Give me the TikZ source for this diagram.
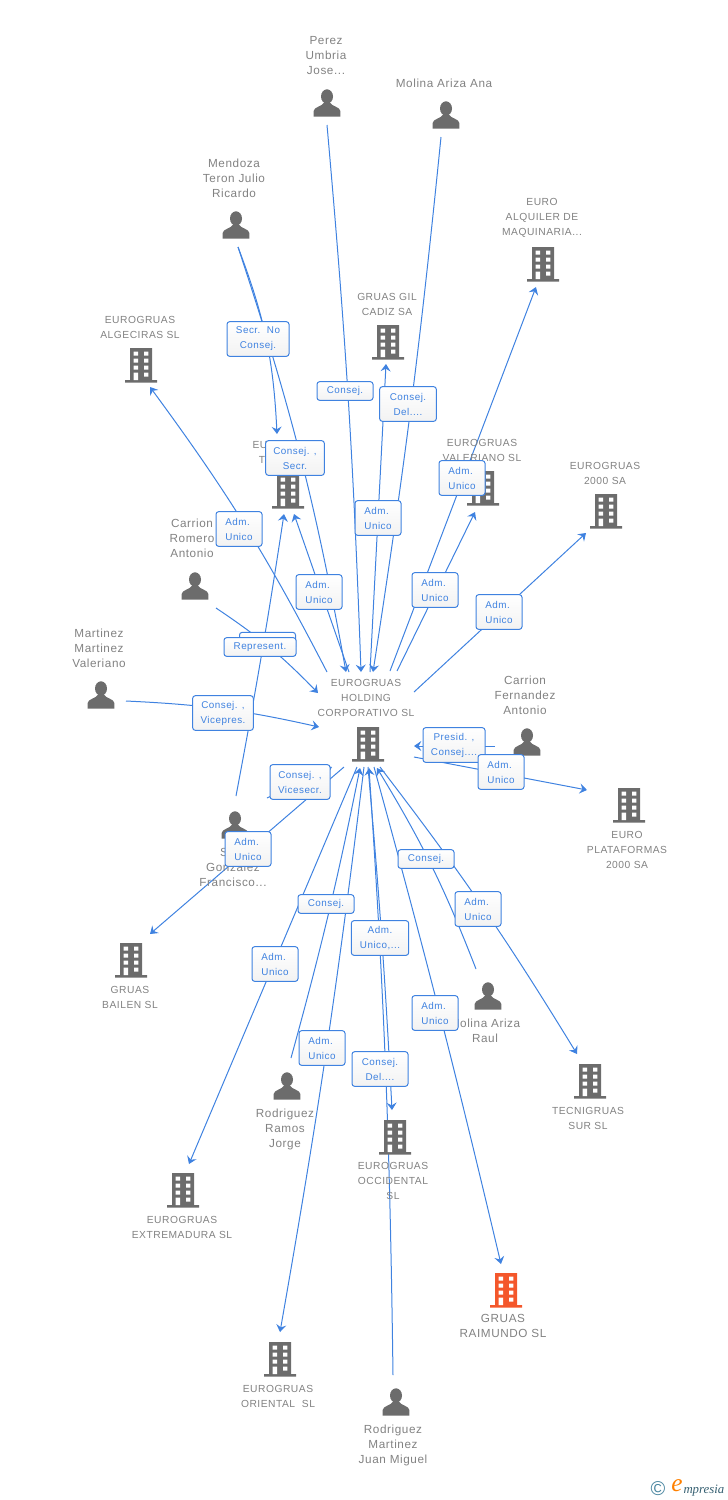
\documentclass[tikz,border=0pt]{standalone}
\usepackage{fontspec}
\setmainfont{Liberation Sans}
\newfontfamily\namefont[LetterSpace=5]{Liberation Sans}
\newfontfamily\logofont{Liberation Serif}
\usetikzlibrary{arrows.meta}
\definecolor{linkblue}{HTML}{3F82E0}
\definecolor{iconGrey}{HTML}{6C6C6C}
\definecolor{nameGrey}{HTML}{828282}
\definecolor{mainOrange}{HTML}{F4572B}
\definecolor{logoTeal}{HTML}{4A86A0}
\newcommand{\admunico}{Adm.\kern2pt\\Unico}
\tikzset{
  every picture/.style={line width=0.75pt},
  link/.style={draw=linkblue,line width=0.75pt,-{Stealth[length=5.5pt,width=7.5pt,inset=2pt]}},
  person/.style={font=\namefont\fontsize{8.8}{11.25}\selectfont,text=nameGrey,align=center,inner sep=0pt},
  firm/.style={font=\namefont\fontsize{7.7}{11.25}\selectfont,text=nameGrey,align=center,inner sep=0pt},
  lbl/.style={draw=linkblue,rounded corners=2pt,top color=white,bottom color=white!95!black,line width=0.75pt,
    font=\namefont\fontsize{7.4}{11.25}\selectfont,text=linkblue,align=center,inner sep=0pt,minimum height=26pt,minimum width=34.5pt},
  lblone/.style={lbl,minimum height=14pt,minimum width=42pt},
  pics/bldg/.style={code={
    \begin{scope}[yscale=-1]
    \fill[#1] (-11,-17) rectangle (11,15) (-16,15) rectangle (16,17.5);
    \foreach \wy in {-13.5,-6.5,0.5} {
      \fill[white] (-7.3,\wy) rectangle (-3,\wy+4.2) (3,\wy) rectangle (7.3,\wy+4.2);
    }
    \fill[white] (3,7.5) rectangle (7.3,11.7) (-7.3,7.5) rectangle (-3,15);
    \end{scope}
  }},
  pics/bldg/.default=iconGrey,
  pics/human/.style={code={
    \begin{scope}[yscale=-1]
    \fill[iconGrey] (0,-6.5) ellipse (6 and 7.2);
    \fill[iconGrey] (-13.3,13.5) -- (-13.3,8) .. controls (-13.3,4) and (-5,3.5) .. (-3.5,0) -- (3.5,0) .. controls (5,3.5) and (13.3,4) .. (13.3,8) -- (13.3,13.5) -- cycle;
    \end{scope}
  }},
}
\begin{document}
\begin{tikzpicture}[x=0.75pt,y=0.75pt,yscale=-1,xscale=1]
\useasboundingbox (0,0) rectangle (728,1500);

% connector ends
\coordinate (perezout) at (327,125);
\coordinate (perezin) at (361,672);
\coordinate (anaout) at (441,137);
\coordinate (anain) at (373,672);
\coordinate (gilout) at (370,672);
\coordinate (gilin) at (386,364);
\coordinate (mendozaout) at (238,247);
\coordinate (mendozaint) at (277,434);
\coordinate (mendozain) at (346,672);
\coordinate (tout) at (349,672);
\coordinate (tin) at (294,514);
\coordinate (algout) at (327,672);
\coordinate (algin) at (150,387);
\coordinate (romeroout) at (216,608);
\coordinate (romeroin) at (318,693);
\coordinate (sout) at (236,796);
\coordinate (sin) at (284,514);
\coordinate (svout) at (267,798);
\coordinate (svin) at (332,767);
\coordinate (bailout) at (344,767);
\coordinate (bailin) at (150,934);
\coordinate (martout) at (126,701);
\coordinate (martin) at (319,727);
\coordinate (milout) at (414,692);
\coordinate (milin) at (586,533);
\coordinate (alqout) at (390,671);
\coordinate (alqin) at (536,287);
\coordinate (valout) at (397,671);
\coordinate (valin) at (475,512);
\coordinate (fernout) at (495,746);
\coordinate (fernin) at (414,746);
\coordinate (platout) at (414,757);
\coordinate (platin) at (587,790);
\coordinate (extout) at (357,767);
\coordinate (extin) at (189,1164);
\coordinate (jorgeout) at (291,1058);
\coordinate (jorgein) at (360,768);
\coordinate (oriout) at (364,767);
\coordinate (oriin) at (280,1332);
\coordinate (occout) at (368,767);
\coordinate (occin) at (392,1110);
\coordinate (juanout) at (393,1375);
\coordinate (juanin) at (369,768);
\coordinate (raiout) at (374,767);
\coordinate (raiin) at (501,1264);
\coordinate (raulout) at (476,969);
\coordinate (raulin) at (377,768);
\coordinate (tecout) at (380,767);
\coordinate (tecin) at (577,1054);

% connectors
\draw[link] (perezout) to[bend right=1.5] (perezin);
\draw[link] (anaout) to[bend right=1.5] (anain);
\draw[link] (gilout) -- (gilin);
\draw[link] (mendozaout) to[bend right=9] (mendozaint);
\draw[link] (mendozaout) to[bend right=4] (mendozain);
\draw[link] (tout) -- (tin);
\draw[link] (algout) to[bend left=4.5] (algin);
\draw[link] (romeroout) to[bend right=6] (romeroin);
\draw[link] (sout) to[bend left=1] (sin);
\draw[link] (svout) -- (svin);
\draw[link] (bailout) -- (bailin);
\draw[link] (martout) to[bend right=5] (martin);
\draw[link] (milout) -- (milin);
\draw[link] (alqout) -- (alqin);
\draw[link] (valout) -- (valin);
\draw[link] (fernout) -- (fernin);
\draw[link] (platout) -- (platin);
\draw[link] (extout) -- (extin);
\draw[link] (jorgeout) to[bend left=2] (jorgein);
\draw[link] (oriout) to[bend right=1.5] (oriin);
\draw[link] (occout) to[bend right=1] (occin);
\draw[link] (juanout) to[bend left=1.5] (juanin);
\draw[link] (raiout) to[bend right=1] (raiin);
\draw[link] (raulout) to[bend left=5] (raulin);
\draw[link] (tecout) to[bend right=3] (tecin);

% people
\pic at (327,103) {human};
\pic at (446,115) {human};
\pic at (236,225) {human};
\pic at (195,586) {human};
\pic at (101,695) {human};
\pic at (527,742) {human};
\pic at (235,825) {human};
\pic at (488,996) {human};
\pic at (287,1086) {human};
\pic at (396,1402) {human};

% companies
\pic at (543,264) {bldg};
\pic at (388,342) {bldg};
\pic at (141,365) {bldg};
\pic at (288,491) {bldg};
\pic at (483,488) {bldg};
\pic at (606,511) {bldg};
\pic at (368,744) {bldg};
\pic at (629,805) {bldg};
\pic at (131,960) {bldg};
\pic at (590,1081) {bldg};
\pic at (395,1137) {bldg};
\pic at (183,1190) {bldg};
\pic at (506,1290) {bldg=mainOrange};
\pic at (280,1359) {bldg};

% names
\node[person] (perezname) at (326,56) {Perez\\Umbria\\Jose...};
\node[person] (ananame) at (444,83) {Molina Ariza Ana};
\node[person] (mendozaname) at (234,178) {Mendoza\\Teron Julio\\Ricardo};
\node[person] (romeroname) at (192,538) {Carrion\\Romero\\Antonio};
\node[person] (martinezname) at (99,648) {Martinez\\Martinez\\Valeriano};
\node[person] (fernandezname) at (525,695) {Carrion\\Fernandez\\Antonio};
\node[person] (sname) at (224,852) {S};
\node[person] (gonzalezname) at (233,875) {Gonzalez\\Francisco...};
\node[person] (raulname) at (485,1031) {Molina Ariza\\Raul};
\node[person] (jorgename) at (285,1129) {Rodriguez\\Ramos\\Jorge};
\node[person] (juanname) at (393,1445) {Rodriguez\\Martinez\\Juan Miguel};
\node[firm] (alquilername) at (542,218) {EURO\\ALQUILER DE\\MAQUINARIA...};
\node[firm] (gilname) at (387,304) {GRUAS GIL\\CADIZ SA};
\node[firm] (algecirasname) at (140,327) {EUROGRUAS\\ALGECIRAS SL};
\node[firm] (euname) at (260,445) {EU};
\node[firm] (tname) at (262,460) {T};
\node[firm] (valerianoname) at (482,450) {EUROGRUAS\\VALERIANO SL};
\node[firm] (milname) at (605,473) {EUROGRUAS\\2000 SA};
\node[firm] (holdingname) at (366,698) {EUROGRUAS\\HOLDING\\CORPORATIVO SL};
\node[firm] (plataformasname) at (627,850) {EURO\\PLATAFORMAS\\2000 SA};
\node[firm] (bailenname) at (130,997) {GRUAS\\BAILEN SL};
\node[firm] (tecniname) at (588,1118) {TECNIGRUAS\\SUR SL};
\node[firm] (occidentalname) at (393,1181) {EUROGRUAS\\OCCIDENTAL\\SL};
\node[firm] (extremaduraname) at (182,1227) {EUROGRUAS\\EXTREMADURA SL};
\node[person] (raimundoname) at (503,1326) {GRUAS\\RAIMUNDO SL};
\node[firm] (orientalname) at (278,1396) {EUROGRUAS\\ORIENTAL\ \ SL};

% labels
\node[lbl,minimum width=46.5pt] (secrno) at (258,339) {Secr.\ \ No\\Consej.};
\node[lblone] (perezlbl) at (345,391) {Consej.};
\node[lbl,minimum width=42.5pt] (analbl) at (408,404) {Consej.\\Del....};
\node[lbl,minimum width=44pt] (secrlbl) at (295,458) {Consej. ,\\Secr.};
\node[lbl] (vallbl) at (462,478) {\admunico};
\node[lbl] (gillbl) at (378,518) {\admunico};
\node[lbl] (alglbl) at (239,529) {\admunico};
\node[lbl] (tlbl) at (319,592) {\admunico};
\node[lbl] (alqlbl) at (435,590) {\admunico};
\node[lbl] (millbl) at (499,612) {\admunico};
\node[lbl,minimum height=13pt,minimum width=42pt] (repback) at (267.5,641) {};
\node[lblone,minimum width=54pt] (replbl) at (260,647) {Represent.};
\node[lbl,minimum width=45.5pt] (martlbl) at (223,713) {Consej. ,\\Vicepres.};
\node[lbl,minimum width=46.5pt] (fernlbl) at (454,745) {Presid. ,\\Consej....};
\node[lbl] (platlbl) at (501,772) {\admunico};
\node[lbl,minimum width=45pt] (svlbl) at (300,782) {Consej. ,\\Vicesecr.};
\node[lbl] (baillbl) at (248,849) {\admunico};
\node[lblone] (raullbl) at (426,859) {Consej.};
\node[lblone] (jorgelbl) at (326,904) {Consej.};
\node[lbl] (teclbl) at (478,909) {\admunico};
\node[lbl,minimum width=43pt] (occlbl) at (380,938) {Adm.\\Unico,...};
\node[lbl] (extlbl) at (275,964) {\admunico};
\node[lbl] (railbl) at (435,1013) {\admunico};
\node[lbl] (orilbl) at (322,1048) {\admunico};
\node[lbl,minimum width=42pt] (juanlbl) at (380,1069) {Consej.\\Del....};

% logo
\node[font=\fontsize{15}{15}\selectfont,text=logoTeal,inner sep=0pt] (logoc) at (658,1489) {\textcopyright};
\node[font=\logofont\itshape\fontsize{19}{19}\selectfont,text=orange,inner sep=0pt] (logoe) at (677,1486) {e};
\node[font=\logofont\itshape\fontsize{9.6}{10}\selectfont,text=logoTeal!70!black,inner sep=0pt,anchor=west] (logot) at (683,1491) {mpresia};

\end{tikzpicture}
\end{document}
